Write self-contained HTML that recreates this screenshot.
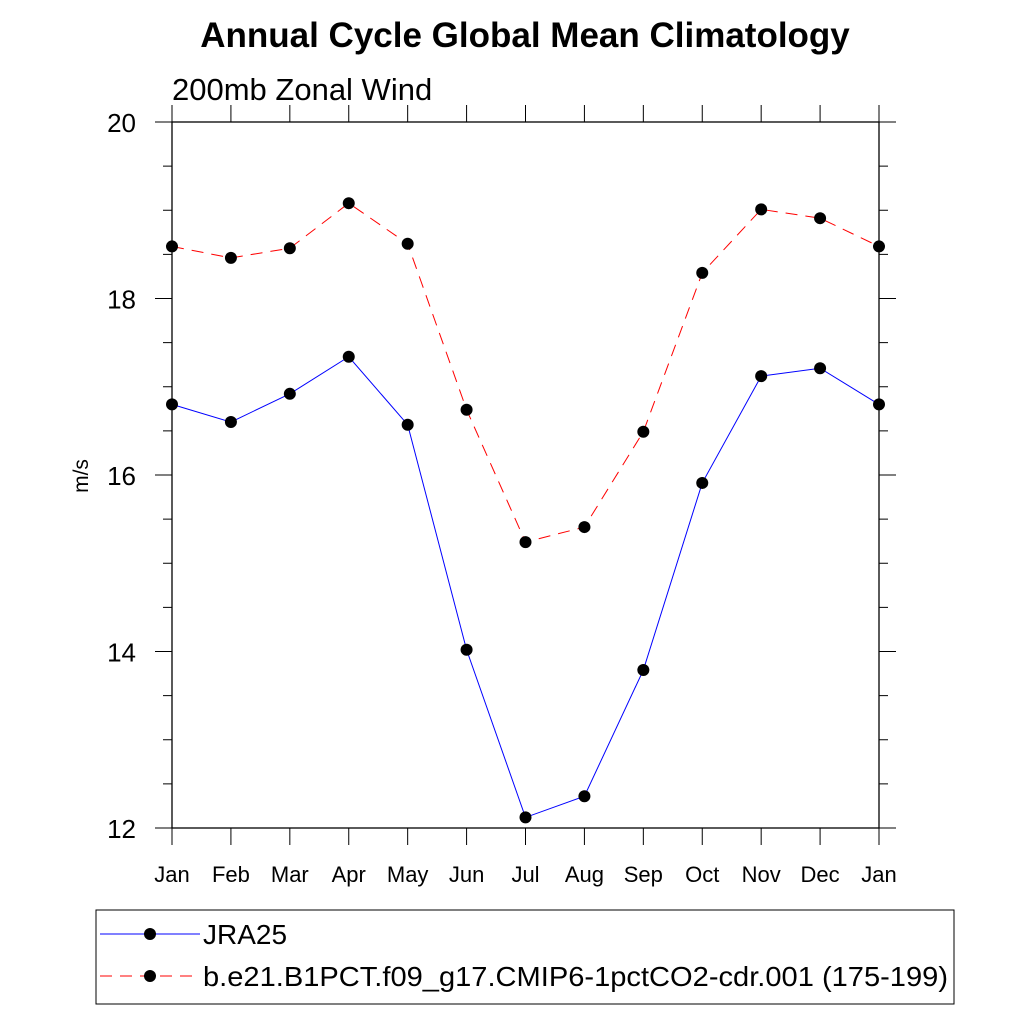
<!DOCTYPE html>
<html><head><meta charset="utf-8"><style>body{margin:0;background:#fff}svg{display:block;font-family:"Liberation Sans",sans-serif}</style></head>
<body>
<svg id="c" width="1024" height="1024">
<text x="525" y="47" text-anchor="middle" font-size="35" font-weight="bold">Annual Cycle Global Mean Climatology</text>
<text x="172" y="100" font-size="31">200mb Zonal Wind</text>
<text transform="translate(88,476) rotate(-90)" text-anchor="middle" font-size="21">m/s</text>
<g id="axes"></g>
<g id="series"></g>
<rect x="96" y="910" width="858" height="94" fill="none" stroke="#000" stroke-width="1"/>
<g>
<line x1="100" y1="934" x2="200" y2="934" stroke="#00f" stroke-width="1"/>
<circle cx="150" cy="934" r="6" fill="#000"/>
<text x="203" y="944" font-size="28">JRA25</text></g>
<g>
<line x1="100" y1="976" x2="200" y2="976" stroke="#f00" stroke-width="1" stroke-dasharray="12,8"/>
<circle cx="150" cy="976" r="6" fill="#000"/>
<text x="203" y="986" font-size="28" textLength="745" lengthAdjust="spacingAndGlyphs">b.e21.B1PCT.f09_g17.CMIP6-1pctCO2-cdr.001 (175-199)</text></g>
</svg>
<script>
const months=["Jan","Feb","Mar","Apr","May","Jun","Jul","Aug","Sep","Oct","Nov","Dec","Jan"];
const jra=[16.80,16.60,16.92,17.34,16.57,14.02,12.12,12.36,13.79,15.91,17.12,17.21,16.80];
const model=[18.59,18.46,18.57,19.08,18.62,16.74,15.24,15.41,16.49,18.29,19.01,18.91,18.59];
const yTicks=[12,14,16,18,20];
const NS="http://www.w3.org/2000/svg";
const L=172,R=879,T=122,B=828,ymin=12,ymax=20;
const xs=i=>L+(R-L)*i/(months.length-1);
const ys=v=>B-(v-ymin)/(ymax-ymin)*(B-T);
function mk(tag,at,parent){const e=document.createElementNS(NS,tag);for(const k in at)e.setAttribute(k,at[k]);parent.appendChild(e);return e;}
const ax=document.getElementById('axes');
const fr=mk('rect',{x:L,y:T,width:R-L,height:B-T,fill:'none',stroke:'#000','stroke-width':1.3},ax);


months.forEach((m,i)=>{const x=xs(i);
mk('line',{x1:x,y1:B,x2:x,y2:B+17,stroke:'#000'},ax);
mk('line',{x1:x,y1:T,x2:x,y2:T-17,stroke:'#000'},ax);
const t=mk('text',{x:x,y:B+54,'text-anchor':'middle','font-size':22},ax);t.textContent=m;

});
for(let v=ymin;v<=ymax+1e-9;v+=0.5){const y=ys(v);const maj=Math.abs(v%2)<1e-9;const len=maj?17:9;
mk('line',{x1:L,y1:y,x2:L-len,y2:y,stroke:'#000'},ax);
mk('line',{x1:R,y1:y,x2:R+len,y2:y,stroke:'#000'},ax);}
yTicks.forEach(v=>{const t=mk('text',{x:136,y:ys(v)+10,'text-anchor':'end','font-size':26},ax);t.textContent=v;

});
const sg=document.getElementById('series');
function draw(data,color,dash,name){
const p=mk('polyline',{points:data.map((v,i)=>xs(i)+','+ys(v)).join(' '),fill:'none',stroke:color,'stroke-width':1,'stroke-dasharray':dash},sg);


data.forEach((v,i)=>{const c=mk('circle',{cx:xs(i),cy:ys(v),r:6,fill:'#000'},sg);

});}
draw(jra,'#00f','none','jra25');
draw(model,'#f00','12,8','model');
</script>
</body></html>
